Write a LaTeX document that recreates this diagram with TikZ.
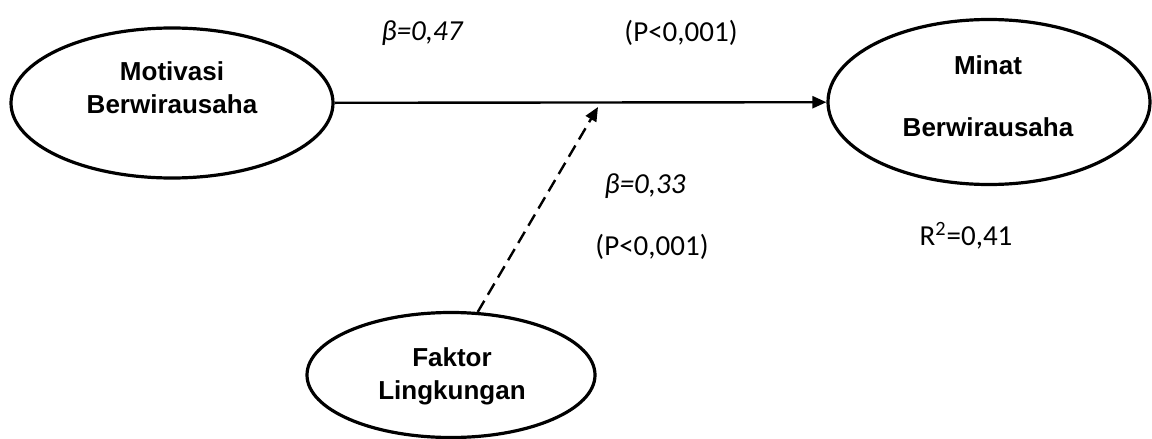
\documentclass[tikz,border=0pt]{standalone}
\usepackage{fontspec}
\setmainfont{Liberation Sans}
\newfontfamily\calibri{Carlito}
\usetikzlibrary{arrows.meta,shapes.geometric}

\begin{document}
\begin{tikzpicture}[x=0.5pt, y=-0.5pt,
    latent/.style={ellipse, draw, line width=1.6pt, inner sep=0pt},
    lbl/.style={align=center, font=\bfseries\fontsize{13}{16.5}\selectfont},
    coef/.style={font=\calibri\fontsize{14.5}{17}\selectfont},
    path/.style={line width=1.2pt, -{Triangle[length=7pt,width=6pt]}}]
  \useasboundingbox (0,0) rectangle (1152,439);

  \node[latent, minimum width=161pt, minimum height=75pt]   (mot) at (172,103) {};
  \node[latent, minimum width=161pt, minimum height=82.5pt] (min) at (989,102) {};
  \node[latent, minimum width=144pt, minimum height=62.5pt] (fak) at (451,375) {};

  \node[lbl] (motlbl) at (172,88)  {Motivasi\\Berwirausaha};
  \node[lbl] (minlbl) at (988,96)  {Minat\\[14.5pt]Berwirausaha};
  \node[lbl] (faklbl) at (452,376) {Faktor\\Lingkungan};

  \coordinate (mod) at (598,107);

  \node[coef] (b1) at (422,33)  {\itshape β=0,47};
  \node[coef] (p1) at (681,33)  {(P<0,001)};
  \node[coef] (b2) at (645,186) {\itshape β=0,33};
  \node[coef] (p2) at (652,247) {(P<0,001)};
  \node[coef] (r2) at (966,236) {R\textsuperscript{2}=0,41};

  \draw[path] (mot) -- (min);
  \draw[path, dash pattern=on 6.5pt off 3.5pt] (fak.67) -- (mod);
\end{tikzpicture}
\end{document}
